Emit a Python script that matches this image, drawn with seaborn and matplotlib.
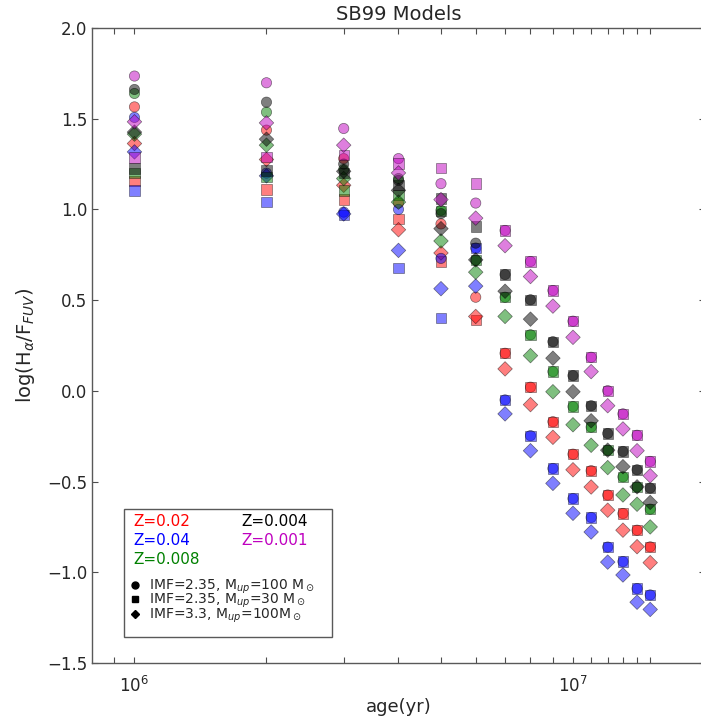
import numpy as np
import pandas as pd
import matplotlib
matplotlib.use('Agg')
import matplotlib.pyplot as plt
import matplotlib.ticker as mticker
from matplotlib.lines import Line2D
from matplotlib.patches import Rectangle
import seaborn as sns

# ages of the SB99 models (yr)
ages = [1e6, 2e6, 3e6, 4e6, 5e6, 6e6, 7e6, 8e6, 9e6, 1e7, 1.1e7, 1.2e7, 1.3e7, 1.4e7, 1.5e7]

# log(Halpha/FUV) per metallicity and IMF
# circle: IMF=2.35 Mup=100, square: IMF=2.35 Mup=30, diamond: IMF=3.3 Mup=100
z02_circle = [1.565, 1.437, 1.28, 1.035, 0.92, 0.516, 0.207, 0.02, -0.17, -0.349, -0.44, -0.574, -0.676, -0.768, -0.86]
z02_square = [1.157, 1.109, 1.054, 0.949, 0.713, 0.392, 0.207, 0.02, -0.17, -0.349, -0.44, -0.574, -0.676, -0.768, -0.86]
z02_diamond = [1.363, 1.275, 1.133, 0.888, 0.76, 0.41, 0.121, -0.076, -0.256, -0.435, -0.53, -0.658, -0.768, -0.859, -0.947]

z04_circle = [1.507, 1.20, 0.985, 1.0, 0.73, 0.787, -0.05, -0.247, -0.428, -0.594, -0.698, -0.861, -0.941, -1.09, -1.125]
z04_square = [1.105, 1.041, 0.97, 0.676, 0.402, 0.787, -0.05, -0.247, -0.428, -0.594, -0.698, -0.861, -0.941, -1.09, -1.125]
z04_diamond = [1.317, 1.185, 0.975, 0.774, 0.563, 0.577, -0.127, -0.33, -0.51, -0.675, -0.778, -0.944, -1.015, -1.165, -1.205]

z008_circle = [1.639, 1.536, 1.22, 1.17, 0.995, 0.72, 0.516, 0.309, 0.106, -0.087, -0.2, -0.327, -0.474, -0.53, -0.652]
z008_square = [1.201, 1.179, 1.105, 1.08, 0.99, 0.72, 0.516, 0.309, 0.106, -0.087, -0.2, -0.327, -0.474, -0.53, -0.652]
z008_diamond = [1.415, 1.354, 1.17, 1.04, 0.826, 0.654, 0.41, 0.194, -0.005, -0.187, -0.3, -0.423, -0.574, -0.625, -0.75]

z004_circle = [1.661, 1.591, 1.25, 1.16, 0.977, 0.814, 0.641, 0.502, 0.271, 0.084, -0.082, -0.235, -0.334, -0.435, -0.536]
z004_square = [1.225, 1.215, 1.2, 1.133, 1.06, 0.906, 0.641, 0.502, 0.271, 0.084, -0.082, -0.235, -0.334, -0.435, -0.536]
z004_diamond = [1.426, 1.387, 1.21, 1.105, 0.894, 0.722, 0.549, 0.395, 0.18, -0.005, -0.165, -0.327, -0.418, -0.529, -0.615]

z001_circle = [1.735, 1.698, 1.446, 1.28, 1.142, 1.035, 0.884, 0.713, 0.553, 0.384, 0.185, 0.001, -0.127, -0.245, -0.389]
z001_square = [1.286, 1.289, 1.30, 1.253, 1.229, 1.142, 0.884, 0.713, 0.553, 0.384, 0.185, 0.001, -0.127, -0.245, -0.389]
z001_diamond = [1.483, 1.477, 1.354, 1.201, 1.054, 0.952, 0.80, 0.63, 0.467, 0.295, 0.106, -0.082, -0.21, -0.33, -0.468]

z_labels = ['0.02', '0.04', '0.008', '0.004', '0.001']
z_colors = ['r', 'b', 'g', 'k', 'm']
imf_labels = [r'IMF=2.35, M$_{up}$=100 M$_\odot$',
              r'IMF=2.35, M$_{up}$=30 M$_\odot$',
              r'IMF=3.3, M$_{up}$=100M$_\odot$']
imf_markers = ['o', 's', 'D']

series = {
    '0.02': [z02_circle, z02_square, z02_diamond],
    '0.04': [z04_circle, z04_square, z04_diamond],
    '0.008': [z008_circle, z008_square, z008_diamond],
    '0.004': [z004_circle, z004_square, z004_diamond],
    '0.001': [z001_circle, z001_square, z001_diamond],
}

rows = []
for z in z_labels:
    for imf, vals in zip(imf_labels, series[z]):
        for a, v in zip(ages, vals):
            rows.append({'age': a, 'ratio': v, 'Z': z, 'imf': imf})
df = pd.DataFrame(rows)

sns.set_style('ticks')
plt.rcParams['font.family'] = ['DejaVu Sans']
plt.rcParams['mathtext.fontset'] = 'dejavusans'

fig = plt.figure(figsize=(7.01, 7.19), dpi=100)
ax = fig.add_axes([0.1312, 0.0779, 0.8745, 0.8832])

sns.scatterplot(data=df, x='age', y='ratio', hue='Z', style='imf',
                palette=dict(zip(z_labels, z_colors)),
                markers=dict(zip(imf_labels, imf_markers)),
                s=55, alpha=0.5, edgecolor='k', linewidth=0.5,
                legend=False, ax=ax)

ax.set_xscale('log')
ax.set_xlim(8e5, 2e7)
ax.set_ylim(-1.5, 2.0)
ax.yaxis.set_major_locator(mticker.MultipleLocator(0.5))
minor_ticks = [9e5] + [a for a in ages if a not in (1e6, 1e7)]
ax.xaxis.set_minor_locator(mticker.FixedLocator(minor_ticks))
ax.xaxis.set_minor_formatter(mticker.NullFormatter())
ax.tick_params(which='both', direction='in', top=True, right=True,
               length=4, width=0.8, color='0.3', labelsize=12)
ax.tick_params(axis='x', which='major', pad=9)
for sp in ax.spines.values():
    sp.set_color('0.35')
    sp.set_linewidth(1.0)

ax.set_title('SB99 Models', fontsize=14)
ax.set_xlabel('age(yr)', fontsize=13, labelpad=2)
ax.set_ylabel(r'log(H$_\alpha$/F$_{FUV}$)', fontsize=14, labelpad=7)

# legend block
ax.add_patch(Rectangle((0.052, 0.041), 0.34, 0.2015, transform=ax.transAxes,
                       facecolor='white', edgecolor='0.35', lw=1.0, zorder=3))
z_pos = [(0.068, 0.2225), (0.068, 0.1926), (0.068, 0.1633), (0.243, 0.2225), (0.243, 0.1926)]
for (tx, ty), z, c in zip(z_pos, z_labels, z_colors):
    ax.text(tx, ty, 'Z=' + z, color=c, fontsize=11, va='center', ha='left',
            transform=ax.transAxes, zorder=4)

handles = [Line2D([], [], marker=m, color='k', ls='', ms=5 if m != 'D' else 4.5, label=l)
           for m, l in zip(imf_markers, imf_labels)]
leg = ax.legend(handles=handles, loc='lower left', bbox_to_anchor=(0.061, 0.06),
                frameon=False, fontsize=10, handlelength=0.8, handletextpad=0.6,
                labelspacing=-0.28, borderpad=0, borderaxespad=0)
leg.set_zorder(5)

fig.savefig('out.png', dpi=100)
